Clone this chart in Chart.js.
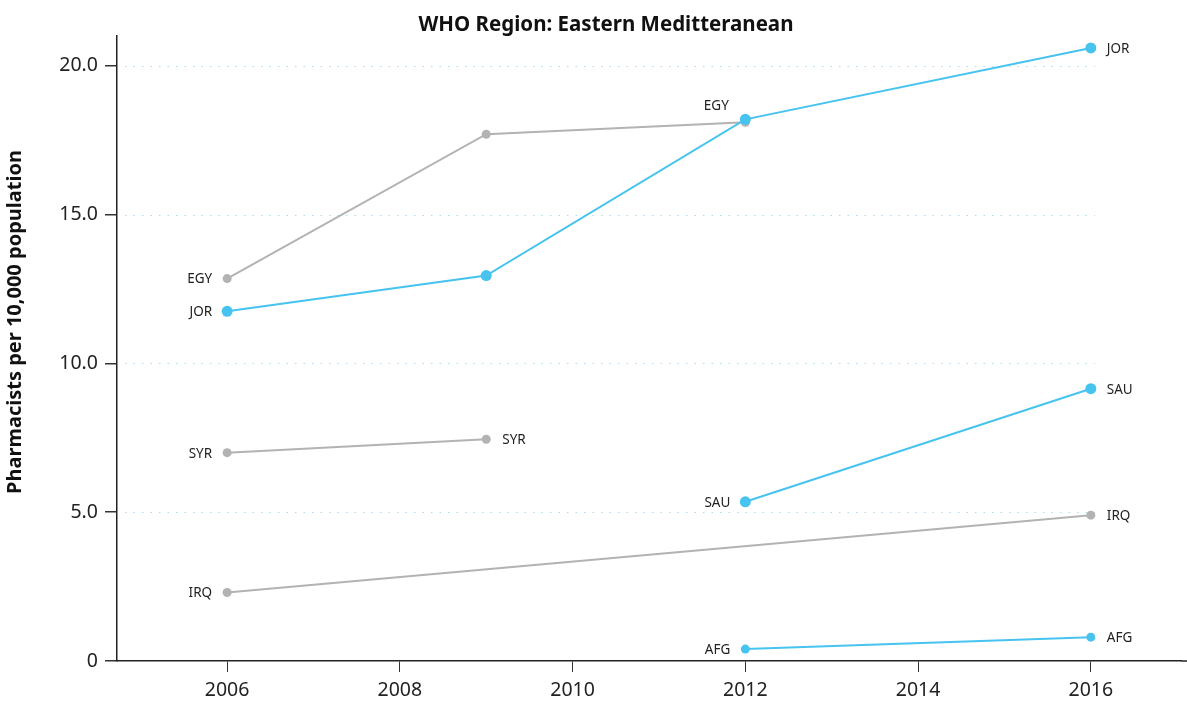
<!DOCTYPE html>
<html>
<head>
<meta charset="utf-8">
<script src="https://cdn.jsdelivr.net/npm/chart.js@4.4.1/dist/chart.umd.min.js"></script>
<style>
  html, body { margin: 0; padding: 0; background: #fff; }
  #wrap { width: 1187px; height: 706px; }
</style>
</head>
<body>
<div id="wrap"><canvas id="chart" width="1187" height="706"></canvas></div>
<script>
// ===== data =====
const xTicks = [2006, 2008, 2010, 2012, 2014, 2016];
const yTicks = [0, 5, 10, 15, 20];

const jorYears = [2006, 2009, 2012, 2016];
const jorValues = [11.75, 12.95, 18.2, 20.6];
const sauYears = [2012, 2016];
const sauValues = [5.35, 9.15];
const afgYears = [2012, 2016];
const afgValues = [0.4, 0.8];

const egyYears = [2006, 2009, 2012];
const egyValues = [12.85, 17.7, 18.1];
const syrYears = [2006, 2009];
const syrValues = [7.0, 7.45];
const irqYears = [2006, 2016];
const irqValues = [2.3, 4.9];

const BLUE = '#47c3f0';
const GREY = '#b3b3b3';
const FONT = "'Noto Sans', 'Open Sans', sans-serif";

function toPoints(years, values) {
  return years.map((yr, i) => ({ x: yr, y: values[i] }));
}

function makeSet(code, years, values, color, radius) {
  return {
    label: code,
    data: toPoints(years, values),
    borderColor: color,
    backgroundColor: color,
    pointBackgroundColor: color,
    pointBorderWidth: 0,
    pointRadius: radius,
    borderWidth: 2,
    tension: 0,
    // where to put the end label (EGY gets pushed above its last point)
    endLabel: code === 'EGY' ? 'above' : 'right'
  };
}

// blue ones first so they sit on top of the grey ones
const datasets = [
  makeSet('JOR', jorYears, jorValues, BLUE, 5.5),
  makeSet('SAU', sauYears, sauValues, BLUE, 5.5),
  makeSet('AFG', afgYears, afgValues, BLUE, 4.5),
  makeSet('EGY', egyYears, egyValues, GREY, 4.5),
  makeSet('SYR', syrYears, syrValues, GREY, 4.5),
  makeSet('IRQ', irqYears, irqValues, GREY, 4.5)
];

// dotted grid lines, labels at the ends of each line, title texts
const decorPlugin = {
  id: 'decor',
  beforeDatasetsDraw(chart) {
    const { ctx, chartArea, scales } = chart;
    const right = scales.x.getPixelForValue(2016) + 4;
    ctx.save();
    ctx.strokeStyle = '#a8dcf2';
    ctx.lineWidth = 1;
    ctx.setLineDash([1.5, 7]);
    yTicks.forEach(v => {
      if (v === 0) return;
      const y = Math.round(scales.y.getPixelForValue(v)) + 0.5;
      ctx.beginPath();
      ctx.moveTo(chartArea.left + 8, y);
      ctx.lineTo(right, y);
      ctx.stroke();
    });
    // axis line runs to the right edge of the canvas
    ctx.setLineDash([]);
    ctx.strokeStyle = '#222';
    ctx.lineWidth = 1.5;
    ctx.beginPath();
    ctx.moveTo(chartArea.right, chartArea.bottom);
    ctx.lineTo(chart.width, chartArea.bottom);
    ctx.stroke();
    ctx.restore();
  },
  afterDatasetsDraw(chart) {
    const { ctx, scales } = chart;
    ctx.save();
    ctx.font = `13.5px ${FONT}`;
    ctx.fillStyle = '#222';
    ctx.textBaseline = 'middle';
    chart.data.datasets.forEach(ds => {
      const first = ds.data[0];
      const last = ds.data[ds.data.length - 1];
      const fx = scales.x.getPixelForValue(first.x);
      const fy = scales.y.getPixelForValue(first.y);
      ctx.textAlign = 'right';
      ctx.fillText(ds.label, fx - 15, fy + 1);
      const lx = scales.x.getPixelForValue(last.x);
      const ly = scales.y.getPixelForValue(last.y);
      if (ds.endLabel === 'above') {
        ctx.textAlign = 'center';
        ctx.fillText(ds.label, lx - 29, ly - 16);
      } else {
        ctx.textAlign = 'left';
        ctx.fillText(ds.label, lx + 16, ly + 1);
      }
    });

    // chart title
    ctx.font = `bold 20.5px ${FONT}`;
    ctx.textAlign = 'center';
    ctx.fillStyle = '#111';
    ctx.fillText('WHO Region: Eastern Meditteranean', 606, 25);

    // y axis title
    ctx.translate(15, 322);
    ctx.rotate(-Math.PI / 2);
    ctx.font = `bold 20px ${FONT}`;
    ctx.fillText('Pharmacists per 10,000 population', 0, 0);
    ctx.restore();
  }
};

new Chart(document.getElementById('chart'), {
  type: 'line',
  data: { datasets },
  plugins: [decorPlugin],
  options: {
    responsive: false,
    animation: false,
    layout: { padding: { top: 36, left: 0, right: 0, bottom: 0 } },
    plugins: {
      legend: { display: false },
      title: { display: false },
      tooltip: { enabled: false }
    },
    scales: {
      x: {
        type: 'linear',
        min: 2004.725,
        max: 2017.05,
        afterBuildTicks: s => { s.ticks = xTicks.map(v => ({ value: v })); },
        afterFit: s => { s.height = 45; },
        border: { display: true, color: '#222', width: 1.5 },
        grid: { display: true, drawOnChartArea: false, drawTicks: true, tickLength: 11, color: '#333', lineWidth: 1 },
        ticks: { color: '#222', padding: 7, font: { family: FONT, size: 19.5 }, callback: v => String(v) }
      },
      y: {
        min: 0,
        max: 21,
        afterBuildTicks: s => { s.ticks = yTicks.map(v => ({ value: v })); },
        afterFit: s => { s.width = 117; },
        border: { display: true, color: '#222', width: 1.5 },
        grid: { display: true, drawOnChartArea: false, drawTicks: true, tickLength: 12, color: '#333', lineWidth: 1.5 },
        ticks: { color: '#222', padding: 7, font: { family: FONT, size: 19.5 }, callback: v => v === 0 ? '0' : v.toFixed(1) }
      }
    }
  }
});
</script>
</body>
</html>
